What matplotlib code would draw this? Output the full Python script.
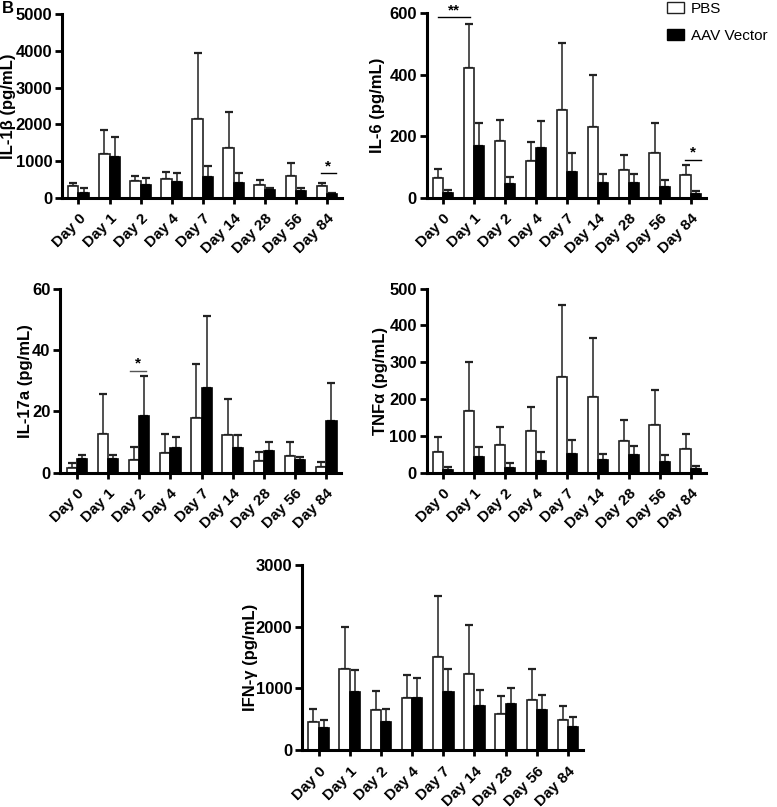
import numpy as np
import matplotlib
matplotlib.use('Agg')
import matplotlib.pyplot as plt
from matplotlib.patches import Patch

plt.rcParams['font.family'] = ['Liberation Sans', 'DejaVu Sans']
plt.rcParams['font.weight'] = 'bold'

days = ['Day 0', 'Day 1', 'Day 2', 'Day 4', 'Day 7', 'Day 14', 'Day 28', 'Day 56', 'Day 84']

# IL-1beta
il1b_pbs = [330, 1180, 465, 510, 2140, 1350, 335, 600, 310]
il1b_pbs_sd = [80, 650, 135, 200, 1800, 970, 135, 345, 100]
il1b_aav = [135, 1100, 335, 415, 555, 410, 200, 170, 100]
il1b_aav_sd = [120, 555, 200, 265, 310, 255, 65, 95, 40]

# IL-6
il6_pbs = [64, 422, 184, 119, 287, 229, 89, 144, 75]
il6_pbs_sd = [31, 143, 68, 61, 215, 171, 49, 98, 33]
il6_aav = [14, 168, 46, 163, 85, 48, 48, 34, 13]
il6_aav_sd = [10, 76, 21, 88, 61, 28, 29, 25, 9]

# IL-17a
il17_pbs = [1.5, 12.6, 4.1, 6.5, 17.9, 12.3, 3.7, 5.3, 1.7]
il17_pbs_sd = [1.8, 12.9, 4.4, 6.1, 17.5, 11.8, 3.1, 4.8, 1.8]
il17_aav = [4.6, 4.6, 18.5, 7.9, 27.7, 8.2, 7.2, 4.1, 16.7]
il17_aav_sd = [1.3, 1.3, 13.1, 3.8, 23.5, 4.0, 2.7, 1.1, 12.4]

# TNF-alpha
tnf_pbs = [57, 168, 76, 112, 261, 206, 87, 129, 63]
tnf_pbs_sd = [40, 132, 49, 67, 195, 160, 57, 95, 43]
tnf_aav = [7, 42, 14, 32, 51, 35, 48, 28, 10]
tnf_aav_sd = [9, 29, 13, 25, 37, 17, 24, 21, 8]

# IFN-gamma
ifn_pbs = [459, 1308, 654, 849, 1503, 1238, 589, 816, 486]
ifn_pbs_sd = [206, 681, 308, 362, 989, 789, 292, 492, 228]
ifn_aav = [362, 935, 459, 849, 940, 714, 751, 654, 373]
ifn_aav_sd = [124, 368, 200, 324, 379, 254, 260, 232, 157]

bar_w = 0.33


def draw_panel(ax, pbs, pbs_sd, aav, aav_sd, ymax, ystep, ylabel, label_x):
    x = np.arange(len(days))
    ax.bar(x - bar_w/2, pbs, bar_w, color='white', edgecolor='#222222', linewidth=1.2, zorder=2)
    ax.bar(x + bar_w/2, aav, bar_w, color='black', edgecolor='black', linewidth=1.2, zorder=2)
    ax.errorbar(x - bar_w/2, pbs, yerr=[np.zeros(len(x)), pbs_sd], fmt='none',
                ecolor='#222222', elinewidth=1.1, capsize=2.8, capthick=1.6, zorder=1)
    ax.errorbar(x + bar_w/2, aav, yerr=[np.zeros(len(x)), aav_sd], fmt='none',
                ecolor='#222222', elinewidth=1.1, capsize=2.8, capthick=1.6, zorder=1)
    ax.set_xlim(-0.53, 8.48)
    ax.set_ylim(0, ymax)
    ax.set_yticks(np.arange(0, ymax + 1, ystep))
    ax.set_xticks(x)
    ax.set_xticklabels(days, rotation=45, ha='right', rotation_mode='anchor', fontsize=11)
    ax.tick_params(axis='y', labelsize=12, width=2, length=5, direction='out', pad=2)
    ax.tick_params(axis='x', width=2, length=4, direction='out', pad=6)
    for s in ['top', 'right']:
        ax.spines[s].set_visible(False)
    for s in ['left', 'bottom']:
        ax.spines[s].set_linewidth(2.2)
    ax.set_ylabel(ylabel, fontsize=12, fontweight='bold')
    ax.yaxis.set_label_coords(label_x, 0.5)


def sig(ax, x0, x1, y, star, color='black'):
    ax.plot([x0, x1], [y, y], color=color, lw=1, clip_on=False)
    ax.text((x0 + x1) / 2, y, star, ha='center', va='bottom', fontsize=11, fontweight='bold')


fig = plt.figure(figsize=(7.77, 8.07), dpi=100)

ax1 = fig.add_axes([0.0798, 0.755, 0.360, 0.2276])
draw_panel(ax1, il1b_pbs, il1b_pbs_sd, il1b_aav, il1b_aav_sd, 5000, 1000, 'IL-1β (pg/mL)', -0.165)
sig(ax1, 7.8, 8.29, 662, '*')

ax2 = fig.add_axes([0.549, 0.755, 0.359, 0.2285])
draw_panel(ax2, il6_pbs, il6_pbs_sd, il6_aav, il6_aav_sd, 600, 200, 'IL-6 (pg/mL)', -0.15)
sig(ax2, -0.16, 0.86, 587, '**')
sig(ax2, 7.81, 8.32, 123, '*')

ax3 = fig.add_axes([0.0776, 0.4143, 0.3616, 0.228])
draw_panel(ax3, il17_pbs, il17_pbs_sd, il17_aav, il17_aav_sd, 60, 20, 'IL-17a (pg/mL)', -0.098)
sig(ax3, 1.72, 2.21, 33.3, '*', color='#555555')

ax4 = fig.add_axes([0.549, 0.4143, 0.359, 0.228])
draw_panel(ax4, tnf_pbs, tnf_pbs_sd, tnf_aav, tnf_aav_sd, 500, 100, 'TNFα (pg/mL)', -0.14)

ax5 = fig.add_axes([0.3887, 0.0706, 0.3616, 0.2292])
draw_panel(ax5, ifn_pbs, ifn_pbs_sd, ifn_aav, ifn_aav_sd, 3000, 1000, 'IFN-γ (pg/mL)', -0.155)

handles = [Patch(facecolor='white', edgecolor='#222222', linewidth=1.0, label='PBS'),
           Patch(facecolor='black', edgecolor='black', label='AAV Vector')]
fig.legend(handles=handles, loc='upper left', bbox_to_anchor=(0.859, 0.998), frameon=False,
           prop={'weight': 'normal', 'size': 11}, handlelength=1.1, handleheight=0.7,
           labelspacing=0.85, handletextpad=0.45, borderpad=0, borderaxespad=0)

fig.text(0.003, 0.999, 'B', fontsize=12, fontweight='bold', ha='left', va='top')

fig.savefig('out.png', dpi=100)
